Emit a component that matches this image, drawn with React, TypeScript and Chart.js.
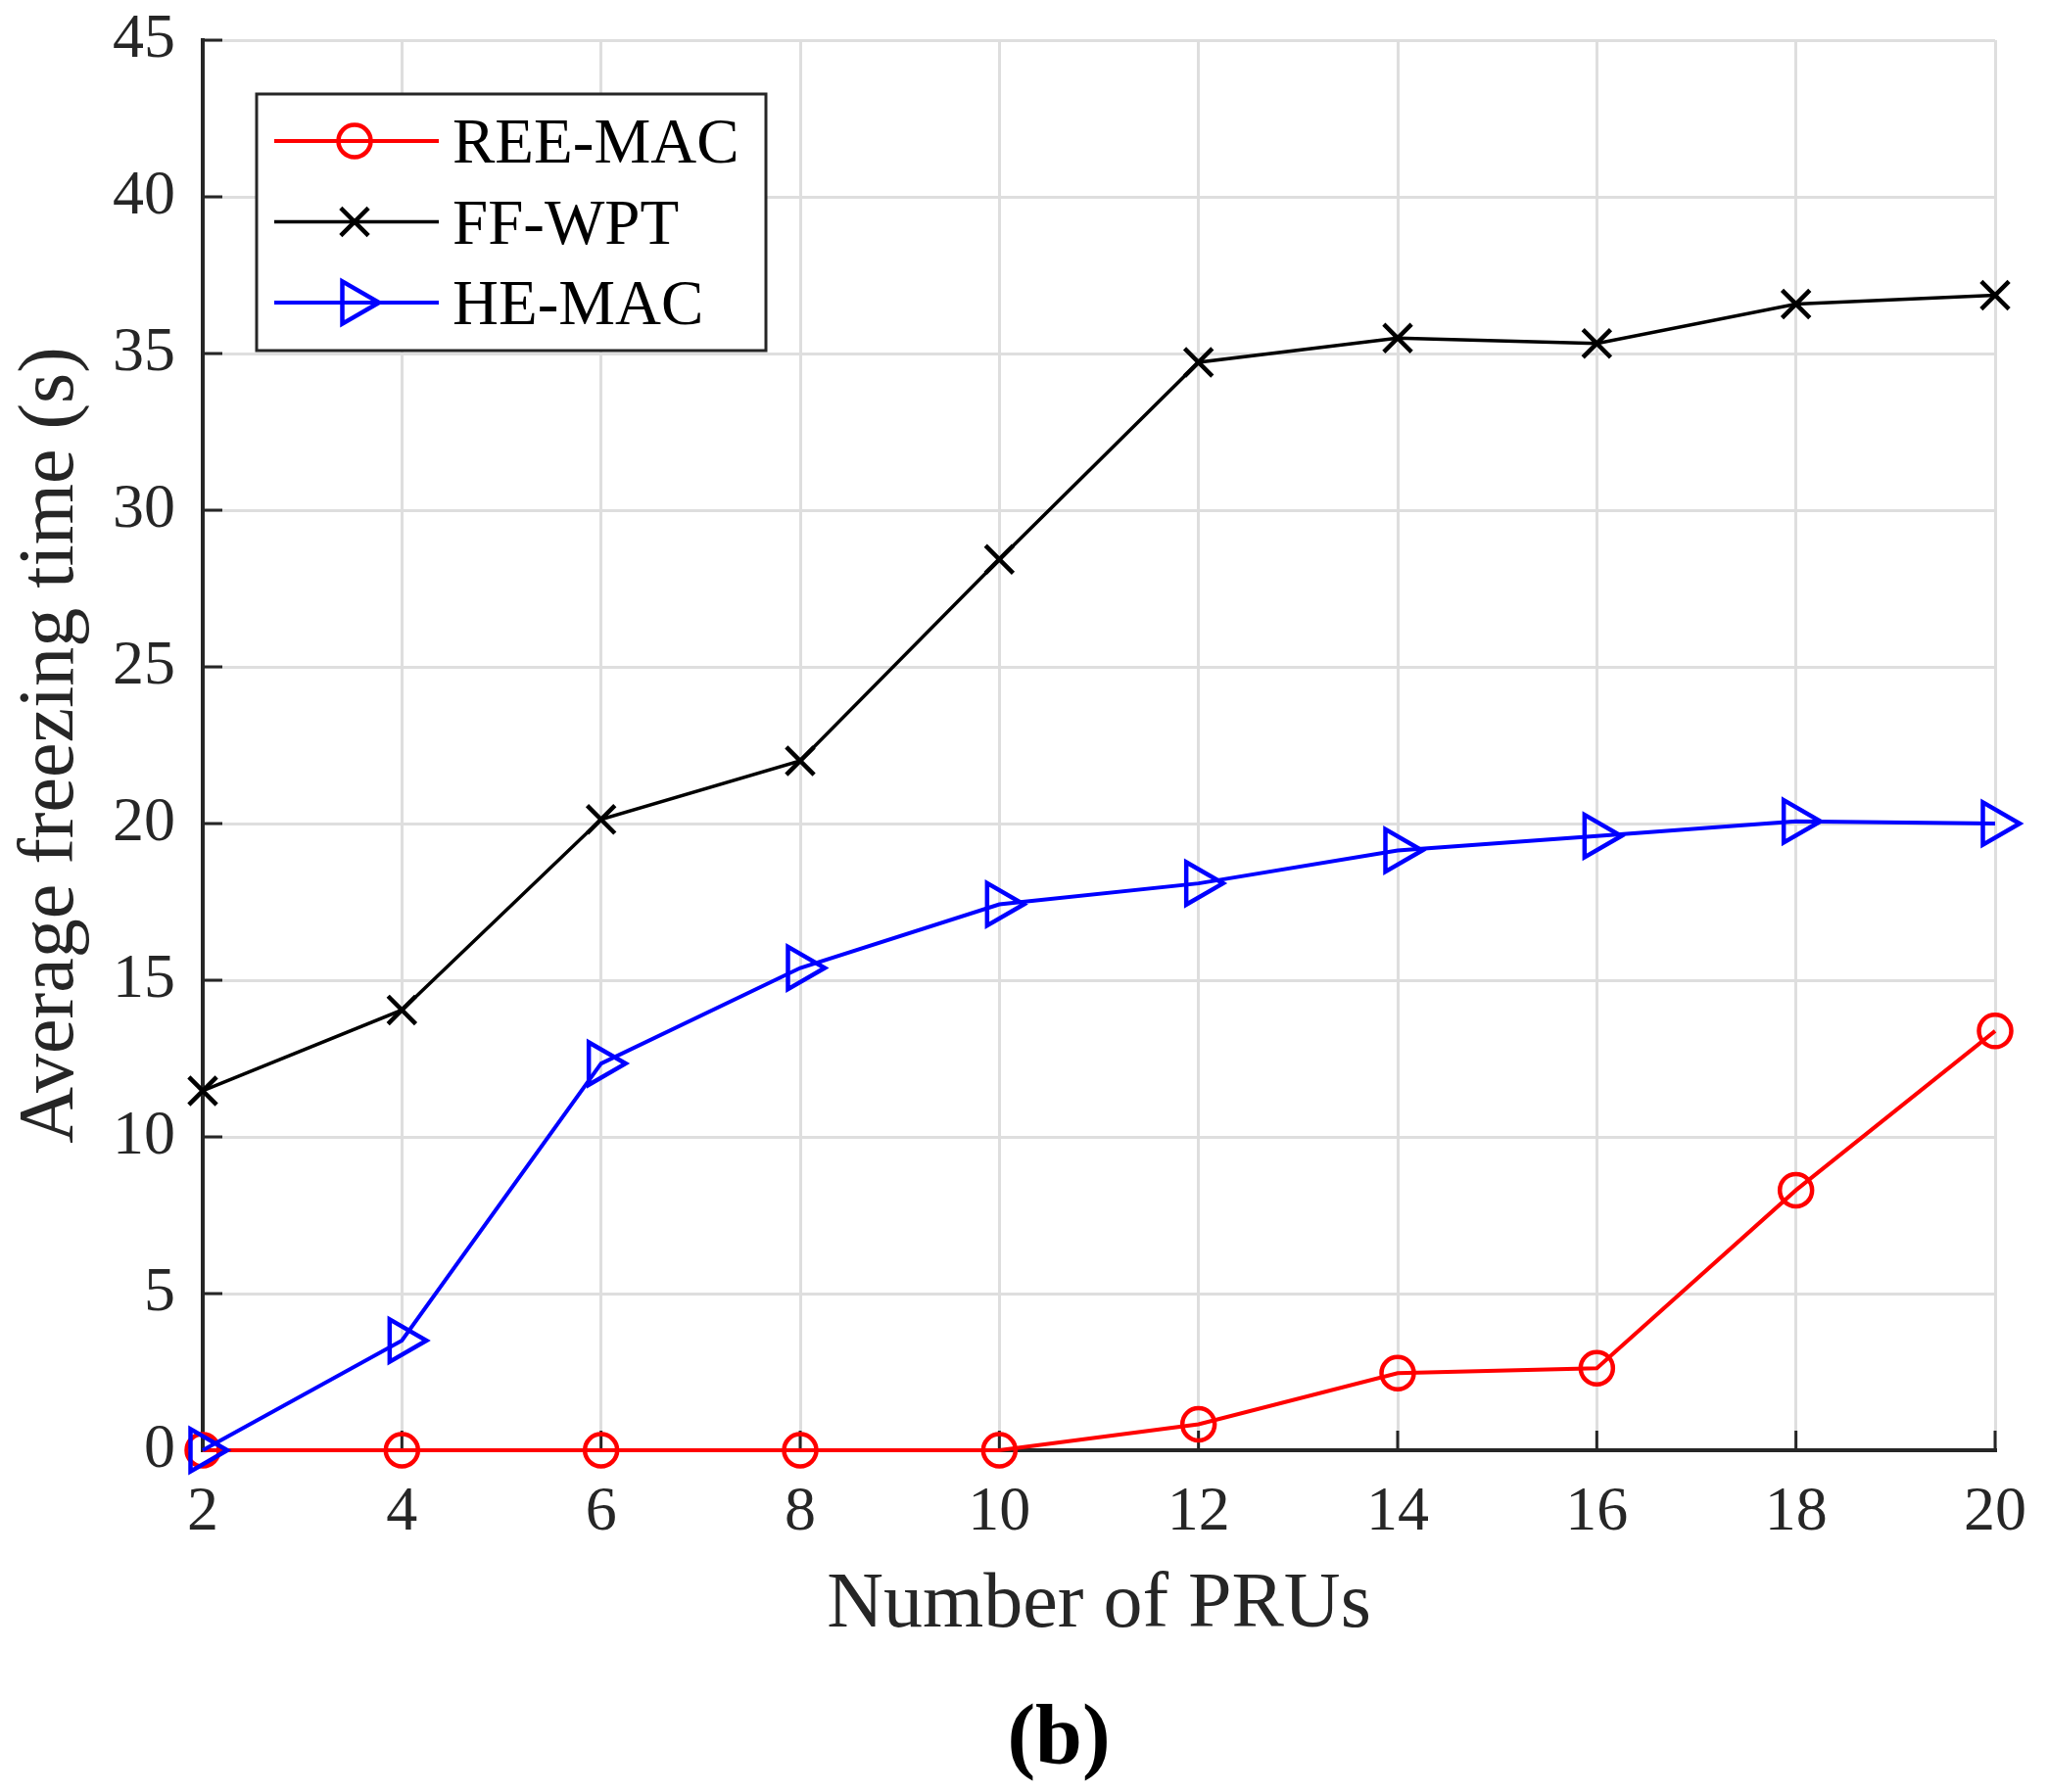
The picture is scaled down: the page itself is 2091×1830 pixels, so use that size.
import { useEffect, useRef } from 'react'
import Chart from 'chart.js/auto'
import { drawPoint } from 'chart.js/helpers'

const prus = [2, 4, 6, 8, 10, 12, 14, 16, 18, 20]
const reeMac = [0, 0, 0, 0, 0, 0.83, 2.46, 2.62, 8.3, 13.38]
const ffWpt = [11.47, 14.05, 20.13, 22.0, 28.43, 34.72, 35.49, 35.32, 36.58, 36.86]
const heMac = [0, 3.5, 12.34, 15.39, 17.42, 18.09, 19.14, 19.6, 20.07, 20.0]
const seriesNames = ['REE-MAC', 'FF-WPT', 'HE-MAC']
const yTicks = [0, 5, 10, 15, 20, 25, 30, 35, 40, 45]
const xTitle = 'Number of PRUs'
const yTitle = 'Average freezing time (s)'
const caption = '(b)'

const serif = "'Liberation Serif', 'Times New Roman', serif"
const axisColor = '#262626'
const gridColor = '#dedede'

// inward ticks, legend box with line+marker samples, and the (b) caption
const decorPlugin = {
  id: 'decor',
  beforeDatasetsDraw(chart: any) {
    const { ctx, chartArea: a, scales } = chart
    ctx.save()
    ctx.strokeStyle = axisColor
    ctx.lineWidth = 3
    ctx.beginPath()
    for (const t of scales.y.ticks) {
      const y = scales.y.getPixelForValue(t.value)
      ctx.moveTo(a.left, y)
      ctx.lineTo(a.left + 20, y)
    }
    for (const t of scales.x.ticks) {
      const x = scales.x.getPixelForValue(t.value)
      ctx.moveTo(x, a.bottom)
      ctx.lineTo(x, a.bottom - 20)
    }
    ctx.stroke()
    ctx.restore()
  },
  afterDraw(chart: any) {
    const { ctx } = chart
    ctx.save()
    // legend box
    ctx.fillStyle = '#ffffff'
    ctx.fillRect(262, 96, 520, 262)
    ctx.strokeStyle = axisColor
    ctx.lineWidth = 3
    ctx.strokeRect(262, 96, 520, 262)
    chart.data.datasets.forEach((ds: any, i: number) => {
      const y = 144 + i * 82.5
      ctx.strokeStyle = ds.borderColor
      ctx.lineWidth = ds.borderWidth
      ctx.beginPath()
      ctx.moveTo(280, y)
      ctx.lineTo(448, y)
      ctx.stroke()
      ctx.fillStyle = 'rgba(0,0,0,0)'
      ctx.lineWidth = ds.pointBorderWidth
      drawPoint(ctx, {
        pointStyle: ds.pointStyle,
        rotation: ds.pointRotation || 0,
        radius: ds.pointRadius,
        borderWidth: ds.pointBorderWidth,
      }, 362, y)
      ctx.fillStyle = '#000000'
      ctx.font = `65px ${serif}`
      ctx.textAlign = 'left'
      ctx.textBaseline = 'alphabetic'
      ctx.fillText(ds.label, 462, y + 22)
    })
    // caption
    ctx.fillStyle = '#000000'
    ctx.font = `bold 86px ${serif}`
    ctx.textAlign = 'center'
    ctx.textBaseline = 'alphabetic'
    ctx.fillText(caption, 1081, 1800)
    ctx.restore()
  },
}

export default function App() {
  const canvasRef = useRef<HTMLCanvasElement | null>(null)

  useEffect(() => {
    document.body.style.margin = '0'
    if (!canvasRef.current) return
    const toPoints = (vals: number[]) => vals.map((v, i) => ({ x: prus[i], y: v }))
    const chart = new Chart(canvasRef.current, {
      type: 'line',
      data: {
        datasets: [
          {
            label: seriesNames[0],
            data: toPoints(reeMac),
            borderColor: '#ff0000',
            borderWidth: 4,
            pointStyle: 'circle',
            pointRadius: 16.5,
            pointBorderWidth: 4.5,
            pointBackgroundColor: 'rgba(0,0,0,0)',
            pointBorderColor: '#ff0000',
            order: 2,
            clip: false,
          },
          {
            label: seriesNames[1],
            data: toPoints(ffWpt),
            borderColor: '#000000',
            borderWidth: 3.5,
            pointStyle: 'crossRot',
            pointRadius: 20,
            pointBorderWidth: 4.5,
            pointBackgroundColor: 'rgba(0,0,0,0)',
            pointBorderColor: '#000000',
            order: 1,
            clip: false,
          },
          {
            label: seriesNames[2],
            data: toPoints(heMac),
            borderColor: '#0000ff',
            borderWidth: 4,
            pointStyle: 'triangle',
            pointRotation: 90,
            pointRadius: 25,
            pointBorderWidth: 4.5,
            pointBackgroundColor: 'rgba(0,0,0,0)',
            pointBorderColor: '#0000ff',
            order: 0,
            clip: false,
          },
        ] as any,
      },
      options: {
        animation: false,
        responsive: false,
        devicePixelRatio: 1,
        layout: { padding: { top: 41, right: 54, left: 0, bottom: 0 } },
        plugins: {
          legend: { display: false },
          tooltip: { enabled: false },
        },
        elements: { line: { tension: 0 } },
        scales: {
          x: {
            type: 'linear',
            min: prus[0],
            max: prus[prus.length - 1],
            afterBuildTicks: (s: any) => {
              s.ticks = prus.map((v) => ({ value: v }))
            },
            afterFit: (s: any) => {
              s.height = 349
              s.paddingLeft = 0
              s.paddingRight = 0
            },
            grid: { color: gridColor, lineWidth: 3, drawTicks: false, z: -1 },
            border: { display: true, color: axisColor, width: 4 },
            ticks: {
              color: axisColor,
              padding: 26,
              maxRotation: 0,
              autoSkip: false,
              font: { family: serif, size: 64 },
            },
            title: {
              display: true,
              text: xTitle,
              color: axisColor,
              font: { family: serif, size: 80 },
              padding: { top: 0, bottom: 142 },
            },
          },
          y: {
            type: 'linear',
            min: yTicks[0],
            max: yTicks[yTicks.length - 1],
            afterBuildTicks: (s: any) => {
              s.ticks = yTicks.map((v) => ({ value: v }))
            },
            afterFit: (s: any) => {
              s.width = 207
              s.paddingTop = 0
              s.paddingBottom = 0
            },
            grid: { color: gridColor, lineWidth: 3, drawTicks: false, z: -1 },
            border: { display: true, color: axisColor, width: 4 },
            ticks: {
              color: axisColor,
              padding: 28,
              font: { family: serif, size: 64 },
            },
            title: {
              display: true,
              text: yTitle,
              color: axisColor,
              font: { family: serif, size: 80 },
              padding: { top: 5, bottom: 0 },
            },
          },
        },
      },
      plugins: [decorPlugin],
    })
    return () => chart.destroy()
  }, [])

  return (
    <div style={{ width: 2091, height: 1830, background: '#ffffff' }}>
      <canvas ref={canvasRef} width={2091} height={1830} />
    </div>
  )
}
